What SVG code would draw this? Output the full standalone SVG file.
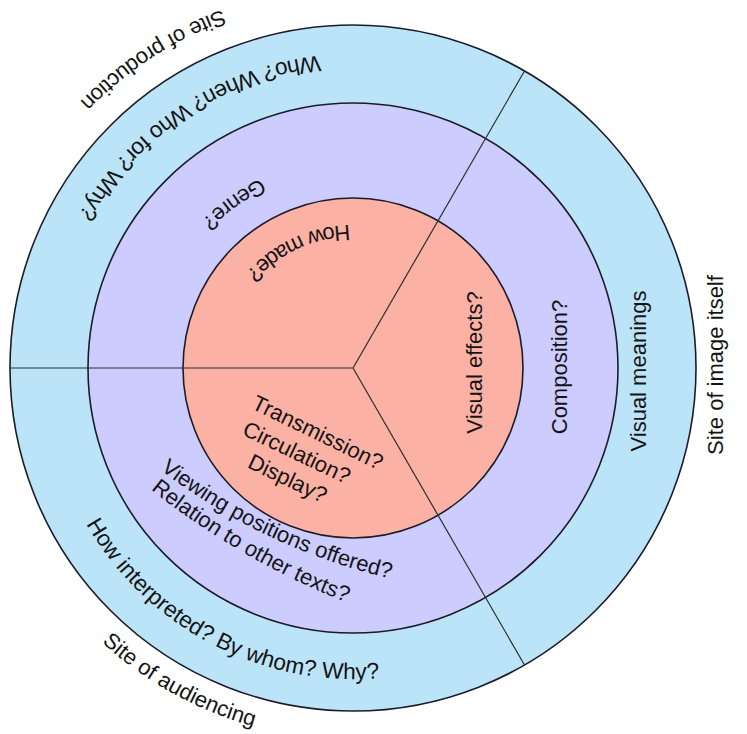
<svg xmlns="http://www.w3.org/2000/svg" width="747" height="734" viewBox="0 0 747 734">
  <style>
    .ring { stroke: #1c1c28; stroke-width: 1.6; }
    .divider { stroke: #2e2e2e; stroke-width: 1.2; fill: none; }
    text { font-family: "Liberation Sans", Arial, sans-serif; font-size: 22px; fill: #141414; }
    .mid { text-anchor: middle; }
    .wide { font-size: 22.7px; }
  </style>
  <defs>
    <!-- counter-clockwise arcs: glyph tops face the centre (353,368) -->
    <path id="arc-production" d="M526.9,28.5 A381,381 0 0 0 -27.5,387.9"/>
    <path id="arc-who" d="M493.1,86.9 A314,314 0 0 0 39.6,387.2"/>
    <path id="arc-genre" d="M438.8,175.3 A211,211 0 0 0 143.2,390.1"/>
    <path id="arc-made" d="M435.0,250.9 A143,143 0 0 0 210.5,355.5"/>
    <path id="arc-interpreted" d="M44.3,373.4 A311,311 0 0 0 527.3,627.3"/>
    <path id="arc-audiencing" d="M-18.9,374.5 A372,372 0 0 0 544.6,686.9"/>
    <!-- flatter arcs for the two lines below the inner disc -->
    <path id="arc-viewing" d="M97.5,414.6 A607,607 0 0 0 472.9,592.0"/>
    <path id="arc-relation" d="M2.4,331.5 A758,758 0 0 0 557.2,651.8"/>
  </defs>

  <rect width="747" height="734" fill="#ffffff"/>

  <!-- outer ring -->
  <g id="ring-outer">
    <circle class="ring" cx="353" cy="368" r="343" fill="#bce4f8"/>
  </g>

  <!-- middle ring -->
  <g id="ring-middle">
    <circle class="ring" cx="353" cy="368" r="265" fill="#ccccff"/>
  </g>

  <!-- inner disc -->
  <g id="ring-inner">
    <circle class="ring" cx="353" cy="368" r="170" fill="#fbb1a4"/>
  </g>

  <!-- sector dividers -->
  <g id="connectors">
    <line class="divider" x1="353" y1="368" x2="10" y2="368"/>
    <line class="divider" x1="353" y1="368" x2="524.5" y2="71"/>
    <line class="divider" x1="353" y1="368" x2="524.5" y2="665"/>
  </g>

  <!-- site of production (upper left sector) -->
  <g id="site-production">
    <text><textPath href="#arc-production" startOffset="50%" class="mid">Site of production</textPath></text>
    <text class="wide"><textPath href="#arc-who" startOffset="50%" class="mid">Who? When? Who for? Why?</textPath></text>
    <text><textPath href="#arc-genre" startOffset="50%" class="mid">Genre?</textPath></text>
    <text><textPath href="#arc-made" startOffset="50%" class="mid">How made?</textPath></text>
  </g>

  <!-- site of the image itself (right sector) -->
  <g id="site-image">
    <text class="mid" transform="translate(482,362.5) rotate(-90)">Visual effects?</text>
    <text class="mid" transform="translate(567,367) rotate(-90)">Composition?</text>
    <text class="mid" transform="translate(646,371) rotate(-90)">Visual meanings</text>
    <text class="mid" transform="translate(723,365) rotate(-90)">Site of image itself</text>
  </g>

  <!-- site of audiencing (lower left sector) -->
  <g id="site-audiencing">
    <text class="mid" transform="translate(318,432) rotate(26)" y="8">Transmission?</text>
    <text class="mid" transform="translate(297,452) rotate(25.5)" y="8">Circulation?</text>
    <text class="mid" transform="translate(288,478) rotate(25.5)" y="8">Display?</text>
    <text><textPath href="#arc-viewing" startOffset="50%" class="mid">Viewing positions offered?</textPath></text>
    <text><textPath href="#arc-relation" startOffset="50%" class="mid">Relation to other texts?</textPath></text>
    <text class="wide"><textPath href="#arc-interpreted" startOffset="50%" class="mid">How interpreted? By whom? Why?</textPath></text>
    <text><textPath href="#arc-audiencing" startOffset="50%" class="mid">Site of audiencing</textPath></text>
  </g>
</svg>
